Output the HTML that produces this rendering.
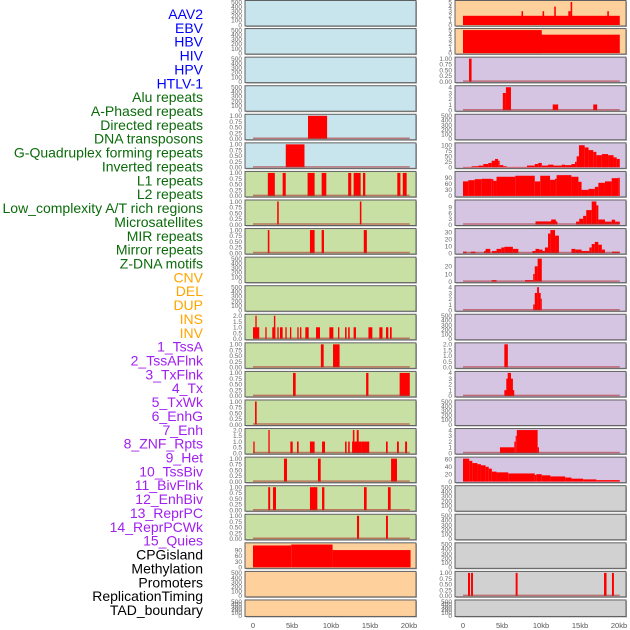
<!DOCTYPE html>
<html><head><meta charset="utf-8">
<style>
html,body{margin:0;padding:0;background:#fff;}
svg{display:block;font-family:"Liberation Sans",sans-serif;}
</style></head>
<body>
<svg id="chart" width="630" height="630" viewBox="0 0 630 630"></svg>
<script>
// ---- Track labels ----
const labelNames = ["AAV2","EBV","HBV","HIV","HPV","HTLV-1","Alu repeats","A-Phased repeats","Directed repeats","DNA transposons","G-Quadruplex forming repeats","Inverted repeats","L1 repeats","L2 repeats","Low_complexity A/T rich regions","Microsatellites","MIR repeats","Mirror repeats","Z-DNA motifs","CNV","DEL","DUP","INS","INV","1_TssA","2_TssAFlnk","3_TxFlnk","4_Tx","5_TxWk","6_EnhG","7_Enh","8_ZNF_Rpts","9_Het","10_TssBiv","11_BivFlnk","12_EnhBiv","13_ReprPC","14_ReprPCWk","15_Quies","CPGisland","Methylation","Promoters","ReplicationTiming","TAD_boundary"];
const labelGroups = [6,13,5,15,5]; // blue, green, orange, purple, black
const groupColors = ["#0000ff","#0b6b0b","#ffa500","#a020f0","#000000"];

// ---- Axis ticks ----
const xTickValues = [0,5,10,15,20];
const xTickLabels = ["0","5kb","10kb","15kb","20kb"];
const ticksEmpty = [0,100,200,300,400,500];
const ticksUnit = [0,0.25,0.5,0.75,1.0];
const ticksUnitLabels = ["0.00","0.25","0.50","0.75","1.00"];
const ticksTwo = [0,0.5,1.0,1.5,2.0];
const ticksTwoLabels = ["0.0","0.5","1.0","1.5","2.0"];

// ---- Left column segments [startKb, endKb, value] ----
const segDirected = [[7.05,9.5,1]];
const segDNATransposons = [[4.2,6.6,1]];
const segL1 = [[1.9,2.8,1],[3.8,4.2,1],[7.0,7.9,1],[8.8,9.4,1],[12.2,12.6,1],[12.9,13.8,1],[14.1,14.4,1],[18.5,18.9,1],[19.2,19.7,1]];
const segL2 = [[3.1,3.3,1],[13.7,13.9,1]];
const segLowComplex = [[1.9,2.1,1],[7.3,7.9,1],[8.8,9.1,1],[14.2,14.6,1]];
const segINS = [[0,0.8,1],[0.3,0.47,2],[1.58,1.75,1],[2.47,2.86,1],[2.68,2.86,2],[3.12,3.29,1],[3.46,3.8,1],[4.15,4.32,1],[4.74,4.91,1],[5.68,5.85,1],[6.03,6.2,1],[6.71,7.14,1],[8.08,8.59,1],[9.79,10.3,1],[10.9,11.07,1],[11.8,12.0,1],[12.2,12.4,1],[12.9,13.2,1],[14.8,15.3,1],[16.2,16.6,1],[17.05,17.35,1],[17.56,17.78,1]];
const segTssA = [[8.7,9.06,1],[10.26,11.1,1]];
const segTssAFlnk = [[5.13,5.47,1],[14.5,14.8,1],[18.8,20.1,1]];
const segTxFlnk = [[0.26,0.47,1]];
const segTx = [[0.04,0.21,1],[1.97,2.14,2],[4.79,5.09,1],[5.64,5.85,1],[7.3,7.9,1],[8.85,9.23,1],[11.8,12.0,1],[12.2,12.4,1],[12.7,13.0,1],[12.8,13.0,2],[13.0,13.9,1],[13.3,13.55,2],[13.9,14.9,1],[17.05,17.27,1],[18.46,18.7,1],[19.5,19.75,1]];
const segTxWk = [[3.97,4.36,1],[8.33,8.68,1],[17.7,18.46,1]];
const segEnhG = [[1.95,2.2,1],[2.56,2.95,1],[7.3,7.95,1],[7.86,8.25,1],[8.85,9.15,1],[14.23,14.57,1],[17.3,17.65,1]];
const segEnh = [[13.33,13.6,1],[17.05,17.3,1]];
const segMethylation = [[0,4.9,114],[4.9,10.2,119],[10.2,20.2,90]];

// ---- Right column segments ----
const segAAV2 = [[0,20.1,2],[7.5,7.7,3],[10.2,10.4,3],[11.7,11.9,4],[13.5,13.8,3],[13.8,14.0,5],[18.5,18.7,3]];
const segEBV = [[0,20.1,4],[0,10.1,5]];
const segHBV = [[0.77,1.1,1]];
const segHIV = [[5.1,5.5,3],[5.5,6.15,4],[11.5,12.2,1],[16.7,17.2,1]];
const segGQuad = [[0,1.1,2],[1.1,1.97,5],[1.97,2.6,8],[2.6,3.25,15],[3.25,3.68,20],[3.68,4.1,30],[4.1,4.5,38],[4.5,4.7,30],[4.7,5.17,10],[5.17,5.6,5],[5.6,8.2,2],[8.2,9.2,8],[9.2,9.65,15],[9.65,10.1,20],[10.1,10.9,8],[10.9,11.6,12],[11.6,12.65,8],[12.65,13.1,12],[13.1,13.9,10],[13.9,14.36,15],[14.36,14.57,25],[14.57,14.87,50],[14.87,15.6,100],[15.6,16.1,90],[16.1,16.7,78],[16.7,17.1,70],[17.1,17.8,55],[17.8,18.6,60],[18.6,19.3,55],[19.3,19.7,45],[19.7,20.1,38]];
const segInverted = [[0,0.68,72],[0.68,1.5,78],[1.5,2.4,83],[2.4,3.68,85],[3.68,3.9,83],[3.9,4.3,75],[4.3,6.7,95],[6.7,9.2,100],[9.2,9.9,72],[9.9,11.16,100],[11.16,11.8,80],[11.8,12.0,85],[12.0,13.9,103],[13.9,14.8,95],[14.8,15.2,70],[15.2,16.1,30],[16.1,16.9,35],[16.9,17.35,45],[17.35,18.2,65],[18.2,19.06,72],[19.06,19.9,88],[19.9,20.1,90]];
const segMicrosat = [[9.3,12.1,1.6],[11.3,11.9,2.6],[14.5,14.9,1.5],[14.9,15.4,3],[15.4,15.8,4.5],[15.8,16.5,7.5],[16.5,17.1,12],[17.1,17.35,10],[17.35,18.2,2.6],[18.2,19.06,1.5],[19.06,19.5,2.5],[19.5,20.1,1.5]];
const segMIR = [[0,0.45,2],[1.0,1.6,2],[2.7,2.9,3],[2.9,3.5,6],[3.7,4.3,3],[4.3,4.9,6],[4.9,5.3,8],[5.3,6.4,9],[6.4,7.1,6],[8.9,9.3,3],[9.3,9.75,6],[9.75,10.2,5],[10.2,10.5,3],[10.5,10.9,8],[10.9,11.2,28],[11.2,11.8,33],[11.8,12.3,25],[13.9,14.4,6],[14.4,15.2,5],[15.2,16.2,3],[16.2,16.5,8],[16.5,16.9,13],[16.9,17.35,16],[17.35,17.8,12],[17.8,18.2,5],[19.1,20.1,2]];
const segMirror = [[3.68,4.3,2],[7.95,9.0,2],[9.0,9.2,10],[9.2,9.57,20],[9.57,10.1,30]];
const segZDNA = [[9.0,9.2,1],[9.2,9.5,3],[9.5,9.74,4],[9.74,9.96,3],[9.96,10.1,2]];
const segCNV = [[5.3,5.75,2]];
const segDEL = [[5.3,6.57,1],[5.55,6.4,3],[5.73,6.15,4]];
const segINV = [[4.74,6.58,1],[6.58,6.75,2],[6.75,6.9,3],[6.9,9.57,4],[9.57,9.74,1]];
const segTssAR = [[0,0.8,62],[0.8,1.2,56],[1.2,1.85,50],[1.85,2.3,47],[2.3,2.9,44],[2.9,3.3,40],[3.3,3.7,35],[3.7,4.3,27],[4.3,5.8,25],[5.8,9.2,22],[9.2,9.4,18],[9.4,10.1,20],[10.1,11.2,17],[11.2,13.1,14],[13.1,13.9,11],[13.9,15.4,8],[15.4,17.1,6],[17.1,20.1,4]];
const segPromoters = [[0.64,0.9,1],[1.03,1.28,1],[6.75,7.0,1],[18.08,18.4,1],[19.1,19.35,1]];
const segEmpty = [];

const BLUE="#c8e4ec", GREEN="#c8e0a4", PEACH="#fdd09c", LAV="#d5c5e3", GRAY="#d1d1d1";

// panels: [column, row, bg, ymax, ticks, tickLabels, segments, baseline]
const panels = [
 [0,0,BLUE,500,ticksEmpty,null,segEmpty,false],
 [0,1,BLUE,500,ticksEmpty,null,segEmpty,false],
 [0,2,BLUE,500,ticksEmpty,null,segEmpty,false],
 [0,3,BLUE,500,ticksEmpty,null,segEmpty,false],
 [0,4,BLUE,1,ticksUnit,ticksUnitLabels,segDirected,true],
 [0,5,BLUE,1,ticksUnit,ticksUnitLabels,segDNATransposons,true],
 [0,6,GREEN,1,ticksUnit,ticksUnitLabels,segL1,true],
 [0,7,GREEN,1,ticksUnit,ticksUnitLabels,segL2,true],
 [0,8,GREEN,1,ticksUnit,ticksUnitLabels,segLowComplex,true],
 [0,9,GREEN,500,ticksEmpty,null,segEmpty,false],
 [0,10,GREEN,500,ticksEmpty,null,segEmpty,false],
 [0,11,GREEN,2,ticksTwo,ticksTwoLabels,segINS,true],
 [0,12,GREEN,1,ticksUnit,ticksUnitLabels,segTssA,true],
 [0,13,GREEN,1,ticksUnit,ticksUnitLabels,segTssAFlnk,true],
 [0,14,GREEN,1,ticksUnit,ticksUnitLabels,segTxFlnk,true],
 [0,15,GREEN,2,ticksTwo,ticksTwoLabels,segTx,true],
 [0,16,GREEN,1,ticksUnit,ticksUnitLabels,segTxWk,true],
 [0,17,GREEN,1,ticksUnit,ticksUnitLabels,segEnhG,true],
 [0,18,GREEN,1,ticksUnit,ticksUnitLabels,segEnh,true],
 [0,19,PEACH,120,[0,30,60,90],null,segMethylation,false],
 [0,20,PEACH,500,ticksEmpty,null,segEmpty,false],
 [0,21,PEACH,500,ticksEmpty,null,segEmpty,false],
 [1,0,PEACH,5,[0,1,2,3,4,5],null,segAAV2,false],
 [1,1,PEACH,5,[0,1,2,3,4,5],null,segEBV,false],
 [1,2,LAV,1,ticksUnit,ticksUnitLabels,segHBV,true],
 [1,3,LAV,4,[0,1,2,3,4],null,segHIV,true],
 [1,4,LAV,500,ticksEmpty,null,segEmpty,false],
 [1,5,LAV,104,[0,25,50,75,100],null,segGQuad,false],
 [1,6,LAV,114,[0,30,60,90],null,segInverted,false],
 [1,7,LAV,12,[0,3,6,9],null,segMicrosat,true],
 [1,8,LAV,33,[0,10,20,30],null,segMIR,true],
 [1,9,LAV,30,[0,10,20],null,segMirror,true],
 [1,10,LAV,4,[0,1,2,3,4],null,segZDNA,true],
 [1,11,LAV,500,ticksEmpty,null,segEmpty,false],
 [1,12,LAV,2,ticksTwo,ticksTwoLabels,segCNV,true],
 [1,13,LAV,4,[0,1,2,3,4],null,segDEL,true],
 [1,14,LAV,500,ticksEmpty,null,segEmpty,false],
 [1,15,LAV,4,[0,1,2,3,4],null,segINV,true],
 [1,16,LAV,62,[0,20,40,60],null,segTssAR,false],
 [1,17,GRAY,500,ticksEmpty,null,segEmpty,false],
 [1,18,GRAY,500,ticksEmpty,null,segEmpty,false],
 [1,19,GRAY,500,ticksEmpty,null,segEmpty,false],
 [1,20,GRAY,1,ticksUnit,ticksUnitLabels,segPromoters,true],
 [1,21,GRAY,500,ticksEmpty,null,segEmpty,false]
];

const NS="http://www.w3.org/2000/svg";
const svg=document.getElementById('chart');
function mk(tag,attrs,parent){const e=document.createElementNS(NS,tag);for(const k in attrs)e.setAttribute(k,attrs[k]);(parent||svg).appendChild(e);return e;}

// labels
let li=0;
labelGroups.forEach((n,g)=>{for(let i=0;i<n;i++){
  const t=mk('text',{x:203,y:14+li*13.86+5,'text-anchor':'end','font-size':14,fill:groupColors[g]});
  t.textContent=labelNames[li];
  
  
  li++;}});

const colX=[245,455], panelW=171, zeroX=[253,463], kbPx=7.8;
function xScale(col,kb){return zeroX[col]+kb*kbPx;}

panels.forEach(p=>{
  const [col,row,bg,ymax,ticks,tl,segs,base]=p;
  const px=colX[col];
  const py=row===0?0.5:row*28.57;
  const h=row===21?16.5:25.5;
  const g=mk('g',{});
  
  
  mk('rect',{x:px+1,y:py+1,width:panelW,height:h,fill:'#aaa'},g);
  mk('rect',{x:px,y:py,width:panelW,height:h,fill:bg,stroke:'#606060','stroke-width':1},g);
  const y0=py+h-1, ytop=py+1.5;
  const yScale=v=>y0-(v/ymax)*(y0-ytop);
  segs.forEach(s=>{
    const r=mk('rect',{x:xScale(col,s[0]),y:yScale(s[2]),width:Math.max(1,xScale(col,s[1])-xScale(col,s[0])),height:y0-yScale(s[2]),fill:'#ff0000'},g);
    
    
  });
  if(base){mk('line',{x1:xScale(col,0),x2:xScale(col,20.1),y1:y0-0.5,y2:y0-0.5,stroke:'#b03030','stroke-opacity':0.6,'stroke-width':1.5},g);}
  ticks.forEach((t,i)=>{
    const tx=mk('text',{x:px-3,y:yScale(t)+2.3,'text-anchor':'end','font-size':6.5,fill:'#666'},g);
    tx.textContent=tl?tl[i]:String(t);
    
    
  });
});

// x axes
[0,1].forEach(col=>{
  xTickValues.forEach((v,i)=>{
    const t=mk('text',{x:xScale(col,v),y:628,'text-anchor':'middle','font-size':7.5,fill:'#555'});
    t.textContent=xTickLabels[i];
    
    
  });
});
</script>
</body></html>
